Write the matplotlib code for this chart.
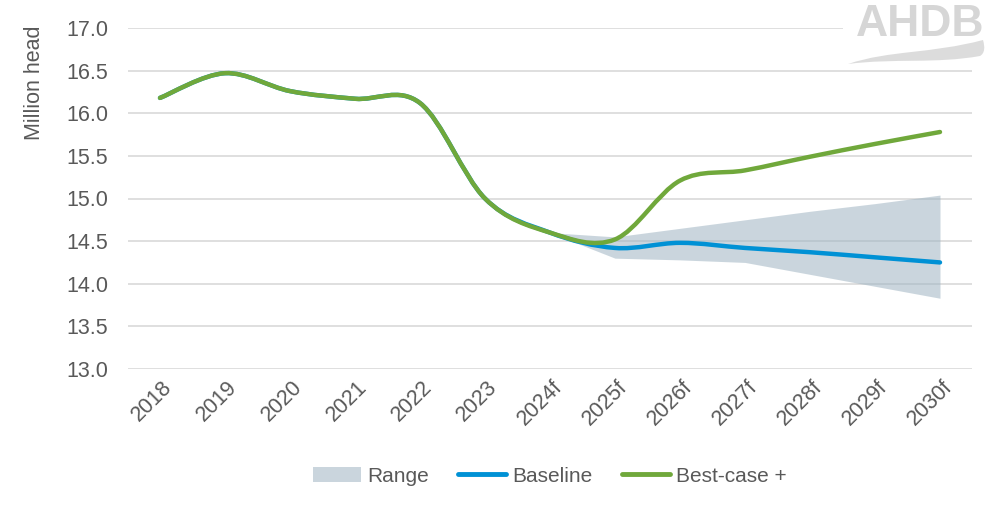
import matplotlib
matplotlib.use("Agg")
import matplotlib.pyplot as plt
from matplotlib.path import Path
from matplotlib.patches import PathPatch, Rectangle, Patch
from matplotlib.lines import Line2D
from matplotlib.transforms import ScaledTranslation
import numpy as np

plt.rcParams['font.family'] = ['Liberation Sans', 'DejaVu Sans']

categories = ["2018", "2019", "2020", "2021", "2022", "2023", "2024f",
              "2025f", "2026f", "2027f", "2028f", "2029f", "2030f"]
baseline = [16.18, 16.47, 16.26, 16.17, 16.12, 15.00, 14.60,
            14.42, 14.48, 14.42, 14.37, 14.31, 14.25]
best_case = [16.18, 16.47, 16.26, 16.17, 16.12, 15.00, 14.60,
             14.52, 15.21, 15.33, 15.49, 15.64, 15.78]
range_start = 6  # index of 2024f
range_upper = [14.60, 14.55, 14.65, 14.75, 14.85, 14.94, 15.04]
range_lower = [14.60, 14.30, 14.28, 14.25, 14.11, 13.97, 13.83]
y_ticks = [13.0, 13.5, 14.0, 14.5, 15.0, 15.5, 16.0, 16.5, 17.0]

TEXT = '#595959'
GREEN = '#70A83B'
BLUE = '#0091D5'
GRID = '#D9D9D9'
FS = 15.5


def smooth_path(xs, ys):
    """Excel-like smoothed line as cubic Bezier path."""
    pts = np.column_stack([xs, ys]).astype(float)
    n = len(pts)
    verts = [pts[0]]
    codes = [Path.MOVETO]
    for i in range(n - 1):
        p0 = pts[i - 1] if i > 0 else pts[i]
        p1 = pts[i]
        p2 = pts[i + 1]
        p3 = pts[i + 2] if i + 2 < n else pts[i + 1]
        c1 = p1 + (p2 - p0) / 6.0
        c2 = p2 - (p3 - p1) / 6.0
        verts += [c1, c2, p2]
        codes += [Path.CURVE4] * 3
    return Path(verts, codes)


fig = plt.figure(figsize=(10, 5.12), dpi=100)
ax = fig.add_axes([0.1275, 1 - 369 / 512, 0.845, 341 / 512])

x = np.arange(len(categories))
ax.set_xlim(-0.5, len(categories) - 0.5)
ax.set_ylim(13.0, 17.0)

# range band
xr = x[range_start:]
ax.fill_between(xr, range_lower, range_upper, color='#9FB4C2', alpha=0.55,
                linewidth=0, zorder=2)

# lines
ax.add_patch(PathPatch(smooth_path(x, baseline), fill=False, edgecolor=BLUE,
                       lw=3.2, capstyle='round', joinstyle='round', zorder=3))
ax.add_patch(PathPatch(smooth_path(x, best_case), fill=False, edgecolor=GREEN,
                       lw=3.2, capstyle='round', joinstyle='round', zorder=4))

ax.set_yticks(y_ticks)
ax.set_yticklabels([f"{v:.1f}" for v in y_ticks])
ax.set_xticks(x)
ax.set_xticklabels(categories, rotation=45, ha='right', va='center',
                   rotation_mode='anchor')
ax.tick_params(axis='both', length=0, colors=TEXT, labelsize=FS)
ax.tick_params(axis='y', pad=14)
ax.tick_params(axis='x', pad=11)
off = ScaledTranslation(9 / 100, 0, fig.dpi_scale_trans)
for lab in ax.get_xticklabels():
    lab.set_transform(lab.get_transform() + off)
ax.grid(axis='y', color=GRID, lw=1.2, zorder=0)
ax.set_axisbelow(True)
for s in ax.spines.values():
    s.set_visible(False)

fig.text(35 / 1000, 1 - 83 / 512, "Million head", rotation=90, ha='center',
         va='center', color=TEXT, fontsize=FS)

handles = [Patch(facecolor='#9FB4C2', alpha=0.55, edgecolor='none'),
           Line2D([], [], color=BLUE, lw=3.5, solid_capstyle='round'),
           Line2D([], [], color=GREEN, lw=3.5, solid_capstyle='round')]
leg = ax.legend(handles, ["Range", "Baseline", "Best-case +"], ncol=3,
                loc='center', bbox_to_anchor=(0.5, (369 - 476) / 341),
                frameon=False, fontsize=15, handlelength=2.3,
                handleheight=0.7, handletextpad=0.3, columnspacing=1.4)
for t in leg.get_texts():
    t.set_color(TEXT)

# AHDB logo (decoration)
fig.patches.append(Rectangle((843 / 1000, 1 - 66 / 512), 157 / 1000, 66 / 512,
                             transform=fig.transFigure, facecolor='white',
                             edgecolor='none', zorder=5))
fig.text(920 / 1000, 1 - 25 / 512, "AHDB", ha='center', va='center',
         color='#D6D6D6', fontsize=32, fontweight='bold', zorder=6)
W, H = 1000.0, 512.0
sw = [(848, 64), (890, 50), (930, 54), (983, 40),
      (985, 47), (985, 53), (980, 56),
      (935, 64), (895, 58), (848, 64)]
sw_codes = [Path.MOVETO, Path.CURVE4, Path.CURVE4, Path.CURVE4,
            Path.CURVE4, Path.CURVE4, Path.CURVE4,
            Path.CURVE4, Path.CURVE4, Path.CURVE4]
sw_verts = [(px / W, 1 - py / H) for px, py in sw]
fig.patches.append(PathPatch(Path(sw_verts, sw_codes), transform=fig.transFigure,
                             facecolor='#DCDCDC', edgecolor='none', zorder=6))

fig.savefig("out.png", dpi=100)
